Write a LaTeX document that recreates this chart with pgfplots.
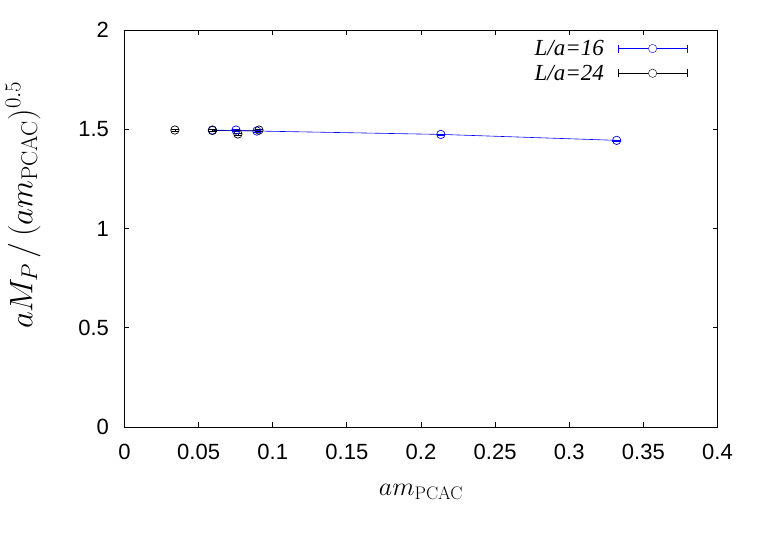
\RequirePackage{fix-cm}
\documentclass[border=0pt]{standalone}
\usepackage[no-math]{fontspec}
\setmainfont{Liberation Sans}
\newfontfamily\legfont{Liberation Serif}
\usepackage{pgfplots}
\pgfplotsset{compat=1.18}
\begin{document}
\begin{tikzpicture}
\begin{axis}[
  scale only axis, width=593pt, height=397pt,
  xmin=0, xmax=0.4, ymin=0, ymax=2,
  xtick={0,0.05,0.1,0.15,0.2,0.25,0.3,0.35,0.4},
  xticklabels={0,0.05,0.1,0.15,0.2,0.25,0.3,0.35,0.4},
  ytick={0,0.5,1,1.5,2},
  yticklabels={0,0.5,1,1.5,2},
  tick align=inside, major tick length=5pt, minor tick num=0,
  tick style={black, line width=0.8pt},
  axis line style={line width=0.8pt},
  ticklabel style={font=\fontsize{22}{26}\selectfont},
  xticklabel style={yshift=-14pt},
  yticklabel style={xshift=-12pt},
  xlabel={$am_{\mathrm{PCAC}}$},
  ylabel={$aM_P\,/\,(am_{\mathrm{PCAC}})^{0.5}$},
  xlabel style={font=\fontsize{26}{30}\selectfont, at={(axis description cs:0.5,0)}, anchor=center, yshift=-65pt},
  ylabel style={font=\fontsize{32.5}{38}\selectfont, at={(axis description cs:-0.171,0.559)}, anchor=center},
  legend style={draw=none, fill=none, anchor=north east, at={(rel axis cs:1,1)},
    xshift=-30pt, yshift=-8pt, font=\legfont\itshape\fontsize{23}{27}\selectfont,
    inner sep=0pt, row sep=4pt, column sep=12pt},
  legend cell align=right,
  legend plot pos=right,
  legend image code/.code={
    \draw[#1,mark=none] (0pt,0pt) -- (69pt,0pt);
    \draw[#1,mark=none] (0pt,-4pt) -- (0pt,4pt);
    \draw[#1,mark=none] (69pt,-4pt) -- (69pt,4pt);
    \draw[#1,mark=none,fill=white] (34.5pt,0pt) circle (4.2pt);
  },
]
\coordinate (sw) at (rel axis cs:0,0);
% connecting lines
\addplot[black, line width=0.6pt, forget plot] coordinates {(0.0593,1.494) (0.0907,1.492)};
\addplot[blue, line width=0.6pt, forget plot] coordinates {(0.0593,1.496) (0.0893,1.491) (0.2134,1.474) (0.332,1.444)};
% L/a=16
\addplot[blue, only marks, mark=o, mark size=4.2pt, mark options={line width=0.7pt},
  error bars/.cd, y dir=both, y explicit, error bar style={line width=0.6pt}]
  table[x=x, y=y, y error=e] {
x y e
0.0593 1.496 0.004
0.0752 1.496 0.004
0.0893 1.491 0.004
0.2134 1.474 0.003
0.3320 1.444 0.003
};
\addlegendentry{L/a=16}
% L/a=24
\addplot[black, only marks, mark=o, mark size=4.2pt, mark options={line width=0.7pt},
  error bars/.cd, y dir=both, y explicit, error bar style={line width=0.6pt}]
  table[x=x, y=y, y error=e] {
x y e
0.0340 1.496 0.004
0.0593 1.494 0.004
0.0765 1.476 0.004
0.0907 1.496 0.004
};
\addlegendentry{L/a=24}
\end{axis}
\pgfresetboundingbox
\path (sw) ++(-124.5pt,-107pt) rectangle ++(763pt,534pt);
\end{tikzpicture}
\end{document}
